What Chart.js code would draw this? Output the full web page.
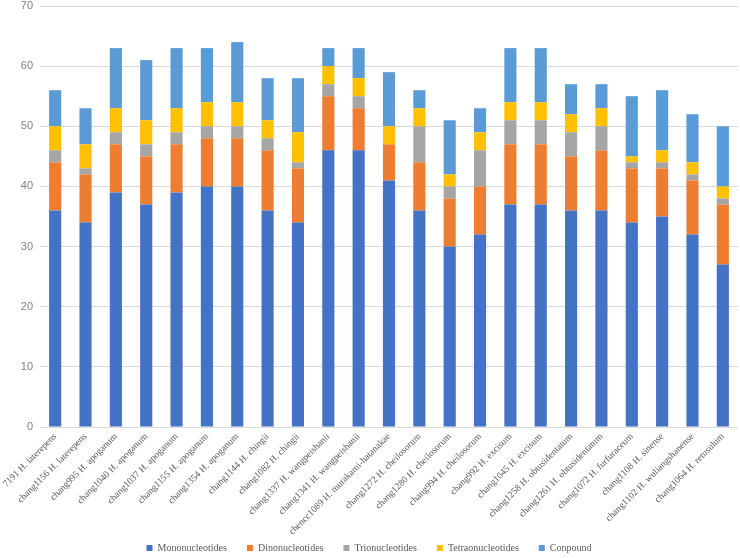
<!DOCTYPE html>
<html>
<head>
<meta charset="utf-8">
<script src="https://cdn.jsdelivr.net/npm/chart.js@4/dist/chart.umd.min.js"></script>
<style>
  html, body { margin: 0; padding: 0; background: #fff; }
  #wrap { width: 740px; height: 558px; position: relative; }
</style>
</head>
<body>
<div id="wrap"><canvas id="chart"></canvas></div>
<script>
const samples = [
  "7191 H. laterepens", "chang1156 H. laterepens", "chang995 H. apoganum",
  "chang1040 H. apoganum", "chang1037 H. apoganum", "chang1155 H. apoganum",
  "chang1354 H. apoganum", "chang1144 H. chingii", "chang1082 H. chingii",
  "chang1337 H. wangpeishanii", "chang1341 H. wangpeishanii",
  "chencc1089 H. murakami-hatanakae", "chang1272 H. cheilosorum",
  "chang1280 H. cheilosorum", "chang994 H. cheilosorum", "chang992 H. excisum",
  "chang1045 H. excisum", "chang1258 H. obtusidentatum",
  "chang1261 H. obtusidentatum", "chang1072 H. furfuraceum",
  "chang1108 H. sinense", "chang1102 H. wuliangshanense", "chang1064 H. retusulum"
];

const mono  = [36, 34, 39, 37, 39, 40, 40, 36, 34, 46, 46, 41, 36, 30, 32, 37, 37, 36, 36, 34, 35, 32, 27];
const di    = [8, 8, 8, 8, 8, 8, 8, 10, 9, 9, 7, 6, 8, 8, 8, 10, 10, 9, 10, 9, 8, 9, 10];
const tri   = [2, 1, 2, 2, 2, 2, 2, 2, 1, 2, 2, 0, 6, 2, 6, 4, 4, 4, 4, 1, 1, 1, 1];
const tetra = [4, 4, 4, 4, 4, 4, 4, 3, 5, 3, 3, 3, 3, 2, 3, 3, 3, 3, 3, 1, 2, 2, 2];
const compound = [6, 6, 10, 10, 10, 9, 10, 7, 9, 3, 5, 9, 3, 9, 4, 9, 9, 5, 4, 10, 10, 8, 10];

const yTicks = { min: 0, max: 70, step: 10 };

const serif = "'Liberation Serif', 'Times New Roman', serif";

function series(label, data, color) {
  return {
    label,
    data,
    backgroundColor: color,
    borderWidth: 0,
    barPercentage: 0.4,
    categoryPercentage: 1.0,
  };
}

// rotated category labels run down past the axis box, over the legend strip
const unclipLabels = {
  id: "unclipLabels",
  afterLayout(chart) {
    chart.scales.x.bottom = chart.height;
  },
};

const ctx = document.getElementById("chart").getContext("2d");
new Chart(ctx, {
  type: "bar",
  data: {
    labels: samples,
    datasets: [
      series("Mononucleotides", mono, "#4472C4"),
      series("Dinonucleotides", di, "#ED7D31"),
      series("Trionucleotides", tri, "#A5A5A5"),
      series("Tetraonucleotides", tetra, "#FFC000"),
      series("Conpound", compound, "#5B9BD5"),
    ],
  },
  plugins: [unclipLabels],
  options: {
    responsive: true,
    maintainAspectRatio: false,
    animation: false,
    layout: { padding: { top: 6, right: 2, left: 0, bottom: 0 } },
    scales: {
      x: {
        stacked: true,
        grid: { display: false, drawTicks: false },
        border: { display: false },
        ticks: {
          autoSkip: false,
          minRotation: 45,
          maxRotation: 45,
          padding: 4,
          color: "#595959",
          font: { family: serif, size: 9.5 },
        },
        afterFit: (scale) => {
          scale.height = 96;
          scale.paddingLeft = 0;
          scale.paddingRight = 0;
        },
      },
      y: {
        stacked: true,
        min: yTicks.min,
        max: yTicks.max,
        grid: { color: "#d9d9d9", lineWidth: 1, drawTicks: false },
        border: { display: false },
        ticks: {
          stepSize: yTicks.step,
          padding: 7,
          color: "#808080",
          font: { family: "'Liberation Sans', Arial, sans-serif", size: 11 },
        },
        afterFit: (scale) => {
          scale.width = 40;
          scale.paddingTop = 0;
          scale.paddingBottom = 0;
        },
      },
    },
    plugins: {
      legend: {
        position: "bottom",
        maxHeight: 35,
        labels: {
          boxWidth: 6,
          boxHeight: 6,
          padding: 20,
          color: "#595959",
          font: { family: serif, size: 10 },
        },
      },
      tooltip: { enabled: false },
    },
  },
});
</script>
</body>
</html>
